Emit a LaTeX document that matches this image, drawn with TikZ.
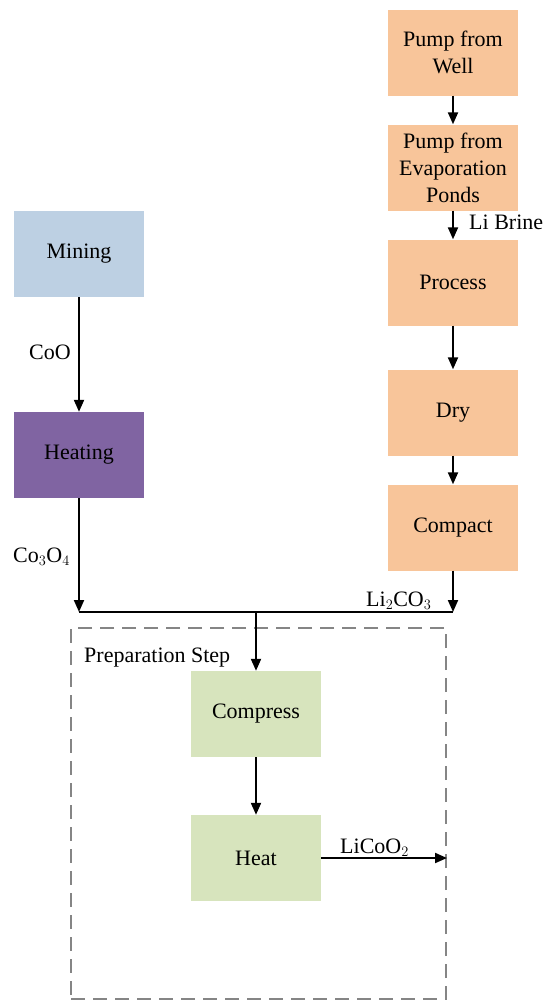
\documentclass[tikz,border=0pt]{standalone}
\usepackage{fontspec}
\setmainfont{Liberation Serif}
\newfontfamily\tnr{Liberation Serif}
\usetikzlibrary{arrows.meta}
\definecolor{orangebox}{HTML}{F8C59A}
\definecolor{bluebox}{HTML}{BDD0E3}
\definecolor{purplebox}{HTML}{8064A2}
\definecolor{greenbox}{HTML}{D7E4BD}
\definecolor{dashgray}{HTML}{858585}
\begin{document}
\begin{tikzpicture}[x=1pt,y=-1pt,
  every node/.style={font=\tnr\fontsize{22}{27}\selectfont},
  procbox/.style={minimum width=130pt, minimum height=86pt, align=center, inner sep=0pt},
  flow/.style={line width=2pt, -{Triangle[length=12pt,width=10pt]}},
  plain/.style={line width=2pt},
  lbl/.style={inner sep=0pt},
  dashbox/.style={draw=dashgray, line width=2pt, dash pattern=on 14pt off 8pt, minimum width=375pt, minimum height=371pt, inner sep=0pt}]
\useasboundingbox (0,0) rectangle (545,1001);
% dashed preparation region
\node[dashbox] (prep) at (258.5,813.5) {};
\node[lbl, anchor=west] (preplbl) at (84,658) {Preparation Step};
% boxes
\node[procbox, fill=orangebox] (well) at (453,52.5) {Pump from\\Well};
\node[procbox, fill=orangebox] (evap) at (453,167.5) {Pump from\\Evaporation\\Ponds};
\node[procbox, fill=orangebox] (process) at (453,282.5) {Process};
\node[procbox, fill=orangebox] (dry) at (453,412.5) {Dry};
\node[procbox, fill=orangebox] (compact) at (453,527.5) {Compact};
\node[procbox, fill=bluebox] (mining) at (79,254) {Mining};
\node[procbox, fill=purplebox] (heating) at (79,455) {Heating};
\node[procbox, fill=greenbox] (compress) at (256,714) {Compress};
\node[procbox, fill=greenbox] (heat) at (256,858) {Heat};
% junction coordinates
\coordinate (jl) at (79,612);
\coordinate (jr) at (453,612);
\coordinate (jm) at (256,612);
% connectors
\draw[flow] (well) -- (evap);
\draw[flow] (evap) -- (process);
\draw[flow] (process) -- (dry);
\draw[flow] (dry) -- (compact);
\draw[flow] (compact) -- (jr);
\draw[flow] (mining) -- (heating);
\draw[flow] (heating) -- (jl);
\draw[plain] (jl) -- (jr);
\draw[flow] (jm) -- (compress);
\draw[flow] (compress) -- (heat);
\draw[flow] (heat.east) -- (heat.east -| prep.east);
% labels
\node[lbl, anchor=west] (libr) at (469,222) {Li Brine};
\node[lbl] (coo) at (50,352) {CoO};
\node[lbl, anchor=west] (co3o4) at (13,557) {Co$_3$O$_4$};
\node[lbl, anchor=west] (li2co3) at (366,601) {Li$_2$CO$_3$};
\node[lbl, anchor=west] (licoo2) at (340,848) {LiCoO$_2$};
\end{tikzpicture}
\end{document}
